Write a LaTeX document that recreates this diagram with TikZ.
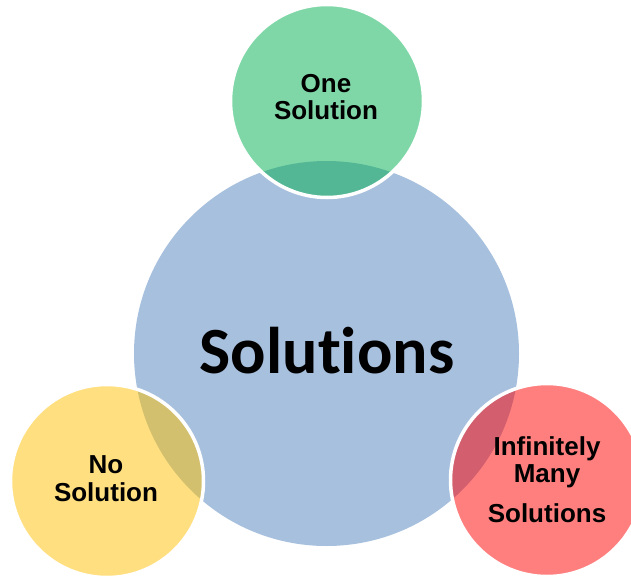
\documentclass[tikz,border=0pt]{standalone}
\usepackage{fontspec}
\setmainfont{Liberation Sans}
\newfontfamily\bigfont[Ligatures=NoCommon]{Carlito}
\definecolor{cblue}{HTML}{4F81BD}
\definecolor{cgreen}{HTML}{00B050}
\definecolor{cyellow}{HTML}{FFC000}
\definecolor{cred}{HTML}{FF0000}
\begin{document}
\begin{tikzpicture}[x=1pt,y=-1pt,
  bigc/.style={circle,inner sep=0pt,minimum size=385pt,fill=cblue,fill opacity=0.5,draw=none},
  smallc/.style={circle,inner sep=0pt,minimum size=193pt,fill=#1,fill opacity=0.5,draw=white,draw opacity=1,line width=3.5pt},
  lbl/.style={anchor=base,inner sep=0pt,font=\fontsize{26}{27}\selectfont\bfseries},
  biglbl/.style={anchor=base,inner sep=0pt,font=\fontsize{66}{70}\selectfont\bigfont\bfseries}]
\useasboundingbox (0,0) rectangle (631,575);
\clip (0,0) rectangle (631,575);
\node[bigc] (big) at (326.5,353.5) {};
\node[smallc=cgreen] (one) at (327,101) {};
\node[smallc=cyellow] (no) at (107,481) {};
\node[smallc=cred] (inf) at (547,480) {};
\node[biglbl] (tbig) at (327,373) {Solutions};
\node[lbl] (t1a) at (326,93) {One};
\node[lbl] (t1b) at (326,120) {Solution};
\node[lbl] (t2a) at (106,473) {No};
\node[lbl] (t2b) at (106,501) {Solution};
\node[lbl] (t3a) at (547,455) {Infinitely};
\node[lbl] (t3b) at (547,482) {Many};
\node[lbl] (t3c) at (547,522) {Solutions};
\end{tikzpicture}
\end{document}
